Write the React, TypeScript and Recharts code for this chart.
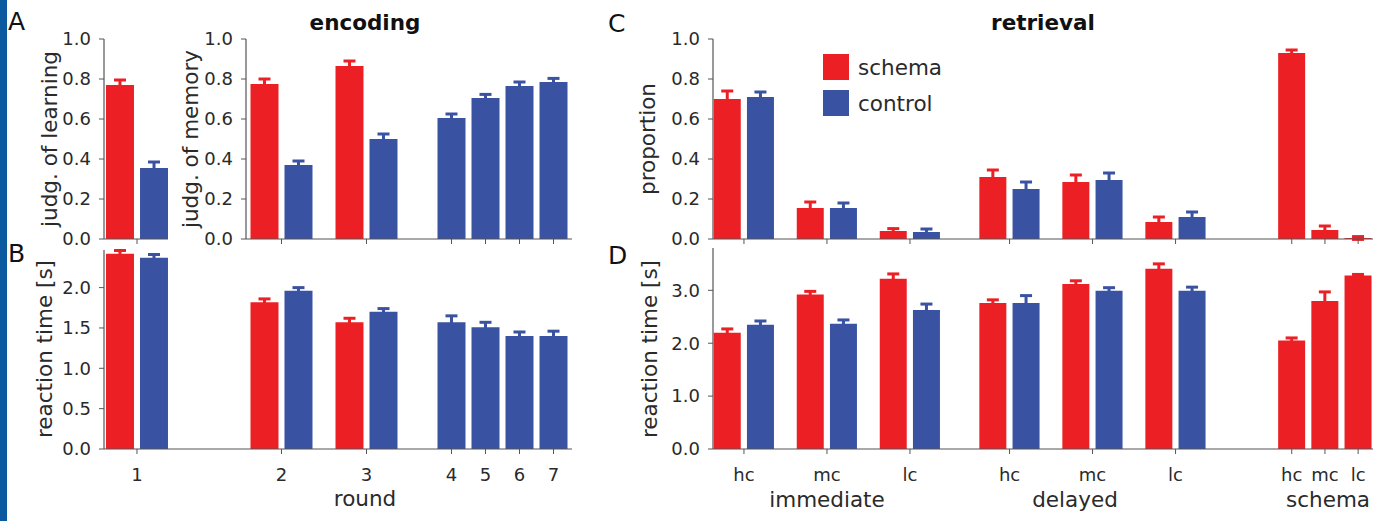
import React from 'react';
import { BarChart, Bar, XAxis, YAxis, ErrorBar, Legend } from 'recharts';

const FONT = '"DejaVu Sans", Verdana, sans-serif';
const RED = '#ec2024';
const BLUE = '#3a52a2';
const AXIS = '#555';
const TEXT = '#2a2a2a';

// ---- encoding ----
const rounds = ['1', '2', '3', '4', '5', '6', '7'];
const groups = ['schema', 'control'];

// judgement of learning (round 1 only)
const jolSchema = [0.77];
const jolSchemaErr = [0.025];
const jolControl = [0.355];
const jolControlErr = [0.03];

// judgement of memory, rounds 2-7
const jomSchema = [0.775, 0.865, null, null, null, null];
const jomSchemaErr = [0.025, 0.025, null, null, null, null];
const jomControl = [0.37, 0.5, 0.605, 0.705, 0.765, 0.785];
const jomControlErr = [0.02, 0.025, 0.02, 0.018, 0.02, 0.018];

// encoding reaction time, rounds 1-7
const rtEncSchema = [2.42, 1.82, 1.57, null, null, null, null];
const rtEncSchemaErr = [0.04, 0.04, 0.05, null, null, null, null];
const rtEncControl = [2.37, 1.96, 1.7, 1.57, 1.51, 1.4, 1.4];
const rtEncControlErr = [0.04, 0.04, 0.04, 0.08, 0.06, 0.05, 0.06];

// ---- retrieval ----
const phases = ['immediate', 'delayed', 'schema'];
const confidence = ['hc', 'mc', 'lc', 'hc', 'mc', 'lc', 'hc', 'mc', 'lc'];

const propSchema = [0.7, 0.155, 0.04, 0.31, 0.285, 0.085, 0.93, 0.045, 0.005];
const propSchemaErr = [0.04, 0.03, 0.012, 0.035, 0.035, 0.025, 0.015, 0.02, 0.007];
const propControl = [0.71, 0.155, 0.035, 0.25, 0.295, 0.11, null, null, null];
const propControlErr = [0.025, 0.025, 0.015, 0.035, 0.035, 0.025, null, null, null];

const rtRetSchema = [2.2, 2.92, 3.22, 2.76, 3.12, 3.41, 2.05, 2.8, 3.28];
const rtRetSchemaErr = [0.07, 0.06, 0.09, 0.06, 0.06, 0.09, 0.05, 0.17, 0.02];
const rtRetControl = [2.35, 2.37, 2.63, 2.76, 2.99, 2.99, null, null, null];
const rtRetControlErr = [0.07, 0.07, 0.11, 0.14, 0.06, 0.07, null, null, null];

// ---- layout (axis positions of the categories) ----
const ROUND_POS = [0, 4.25, 6.75, 9.25, 10.25, 11.25, 12.25];
const COND_POS = [0, 1, 2, 3.2, 4.2, 5.2, 6.6, 7.0, 7.4];
const ENC_PAIR = 0.5;
const RET_PAIR = 0.2;

type Row = { x: number; schema?: number; schemaErr?: number; control?: number; controlErr?: number };

function buildRows(pos: number[], s: any[], sErr: any[], c: any[], cErr: any[], off: number): Row[] {
  const rows: Row[] = [];
  pos.forEach((p, i) => {
    const hasS = s[i] != null;
    const hasC = c[i] != null;
    const paired = hasS && hasC;
    if (hasS) rows.push({ x: paired ? p - off : p, schema: s[i], schemaErr: sErr[i] });
    if (hasC) rows.push({ x: paired ? p + off : p, control: c[i], controlErr: cErr[i] });
  });
  return rows;
}

const jolRows = buildRows(ROUND_POS.slice(0, 1), jolSchema, jolSchemaErr, jolControl, jolControlErr, ENC_PAIR);
const jomRows = buildRows(ROUND_POS.slice(1), jomSchema, jomSchemaErr, jomControl, jomControlErr, ENC_PAIR);
const rtEncRows = buildRows(ROUND_POS, rtEncSchema, rtEncSchemaErr, rtEncControl, rtEncControlErr, ENC_PAIR);
const propRows = buildRows(COND_POS, propSchema, propSchemaErr, propControl, propControlErr, RET_PAIR);
const rtRetRows = buildRows(COND_POS, rtRetSchema, rtRetSchemaErr, rtRetControl, rtRetControlErr, RET_PAIR);

const ML = 80;
const MT = 10;
const MR = 10;

const LegendBox = ({ payload }: any) => {
  const items = [...(payload || [])].sort(
    (a: any, b: any) => groups.indexOf(a.value) - groups.indexOf(b.value)
  );
  return (
    <div style={{ fontFamily: FONT, fontSize: 21.5, color: TEXT }}>
      {items.map((entry: any) => (
        <div key={entry.value} style={{ display: 'flex', alignItems: 'center', height: 36 }}>
          <span style={{ display: 'inline-block', width: 26, height: 26, background: entry.color, marginRight: 9 }} />
          {entry.value}
        </div>
      ))}
    </div>
  );
};

interface PanelProps {
  plot: { x: number; y: number; w: number; h: number };
  rows: Row[];
  xDomain: [number, number];
  xTicks: number[];
  xLabels?: string[];
  yDomain: [number, number];
  yTicks: number[];
  barSize: number;
  legend?: boolean;
}

function Panel({ plot, rows, xDomain, xTicks, xLabels, yDomain, yTicks, barSize, legend }: PanelProps) {
  const xh = xLabels ? 40 : 10;
  const labelFor = (v: number) => {
    if (!xLabels) return '';
    const i = xTicks.findIndex((t) => Math.abs(t - v) < 1e-6);
    return i >= 0 ? xLabels[i] : '';
  };
  return (
    <div style={{ position: 'absolute', left: plot.x - ML, top: plot.y - MT }}>
      <BarChart
        width={ML + plot.w + MR}
        height={MT + plot.h + xh}
        data={rows}
        margin={{ top: MT, right: MR, bottom: 0, left: 0 }}
        style={{ fontFamily: FONT }}
      >
        <XAxis
          type="number"
          dataKey="x"
          domain={xDomain}
          allowDataOverflow
          ticks={xTicks}
          interval={0}
          tickFormatter={labelFor}
          height={xh}
          tickSize={5}
          tickMargin={14}
          axisLine={{ stroke: AXIS, strokeWidth: 1.2 }}
          tickLine={{ stroke: AXIS }}
          tick={{ fontSize: 18, fill: TEXT }}
        />
        <YAxis
          type="number"
          domain={yDomain}
          allowDataOverflow
          ticks={yTicks}
          interval={0}
          width={ML}
          tickSize={5}
          tickMargin={8}
          tickFormatter={(v: number) => v.toFixed(1)}
          axisLine={{ stroke: AXIS, strokeWidth: 1.2 }}
          tickLine={{ stroke: AXIS }}
          tick={{ fontSize: 18, fill: TEXT }}
        />
        {legend && (
          <Legend
            layout="vertical"
            align="center"
            verticalAlign="middle"
            content={<LegendBox />}
            wrapperStyle={{ left: 190, top: 20, width: 200, height: 80 }}
          />
        )}
        <Bar dataKey="schema" name="schema" stackId="g" fill={RED} barSize={barSize} isAnimationActive={false}>
          <ErrorBar dataKey="schemaErr" direction="y" width={6} strokeWidth={3} stroke={RED} />
        </Bar>
        <Bar dataKey="control" name="control" stackId="g" fill={BLUE} barSize={barSize} isAnimationActive={false}>
          <ErrorBar dataKey="controlErr" direction="y" width={6} strokeWidth={3} stroke={BLUE} />
        </Bar>
      </BarChart>
    </div>
  );
}

const propTicks = [0, 0.2, 0.4, 0.6, 0.8, 1.0];

const YLabel = ({ x, y, children }: any) => (
  <text x={x} y={y} transform={`rotate(-90 ${x} ${y})`} textAnchor="middle" fontSize={21.5} fill={TEXT}>
    {children}
  </text>
);

export default function App() {
  return (
    <div
      style={{
        position: 'absolute',
        left: 0,
        top: 0,
        width: 1390,
        height: 521,
        background: '#fff',
        overflow: 'hidden',
        fontFamily: FONT,
      }}
    >
      <div style={{ position: 'absolute', left: 0, top: 0, width: 7, height: 521, background: '#0b5aa0' }} />

      <Panel
        plot={{ x: 104, y: 39, w: 64, h: 200 }}
        rows={jolRows}
        xDomain={[-0.97, 0.91]}
        xTicks={ROUND_POS.slice(0, 1)}
        yDomain={[0, 1]}
        yTicks={propTicks}
        barSize={28}
      />
      <Panel
        plot={{ x: 246, y: 39, w: 326, h: 200 }}
        rows={jomRows}
        xDomain={[3.206, 12.794]}
        xTicks={ROUND_POS.slice(1)}
        yDomain={[0, 1]}
        yTicks={propTicks}
        barSize={28}
      />
      <Panel
        plot={{ x: 104, y: 250, w: 468, h: 199 }}
        rows={rtEncRows}
        xDomain={[-0.97, 12.794]}
        xTicks={ROUND_POS}
        xLabels={rounds}
        yDomain={[0, 2.466]}
        yTicks={[0, 0.5, 1.0, 1.5, 2.0]}
        barSize={28}
      />
      <Panel
        plot={{ x: 713, y: 39, w: 660, h: 200 }}
        rows={propRows}
        xDomain={[-0.373, 7.579]}
        xTicks={COND_POS}
        yDomain={[0, 1]}
        yTicks={propTicks}
        barSize={27}
        legend
      />
      <Panel
        plot={{ x: 713, y: 248, w: 660, h: 201 }}
        rows={rtRetRows}
        xDomain={[-0.373, 7.579]}
        xTicks={COND_POS}
        xLabels={confidence}
        yDomain={[0, 3.8]}
        yTicks={[0, 1.0, 2.0, 3.0]}
        barSize={27}
      />

      <svg
        width={1390}
        height={521}
        style={{ position: 'absolute', left: 0, top: 0, pointerEvents: 'none', fontFamily: FONT }}
      >
        <g fontSize={25} fill="#111">
          <text x={8} y={30}>A</text>
          <text x={8} y={262}>B</text>
          <text x={608} y={32}>C</text>
          <text x={608} y={264}>D</text>
        </g>
        <g fontSize={21.5} fontWeight="bold" fill="#111" textAnchor="middle">
          <text x={365} y={30}>encoding</text>
          <text x={1043} y={30}>retrieval</text>
        </g>
        <YLabel x={57} y={139}>judg. of learning</YLabel>
        <YLabel x={198} y={139}>judg. of memory</YLabel>
        <YLabel x={52} y={349}>reaction time [s]</YLabel>
        <YLabel x={655} y={139}>proportion</YLabel>
        <YLabel x={657} y={349}>reaction time [s]</YLabel>
        <g fontSize={21.5} fill={TEXT} textAnchor="middle">
          <text x={365} y={506}>round</text>
          <text x={827} y={507}>{phases[0]}</text>
          <text x={1075} y={507}>{phases[1]}</text>
          <text x={1328} y={507}>{phases[2]}</text>
        </g>
      </svg>
    </div>
  );
}
